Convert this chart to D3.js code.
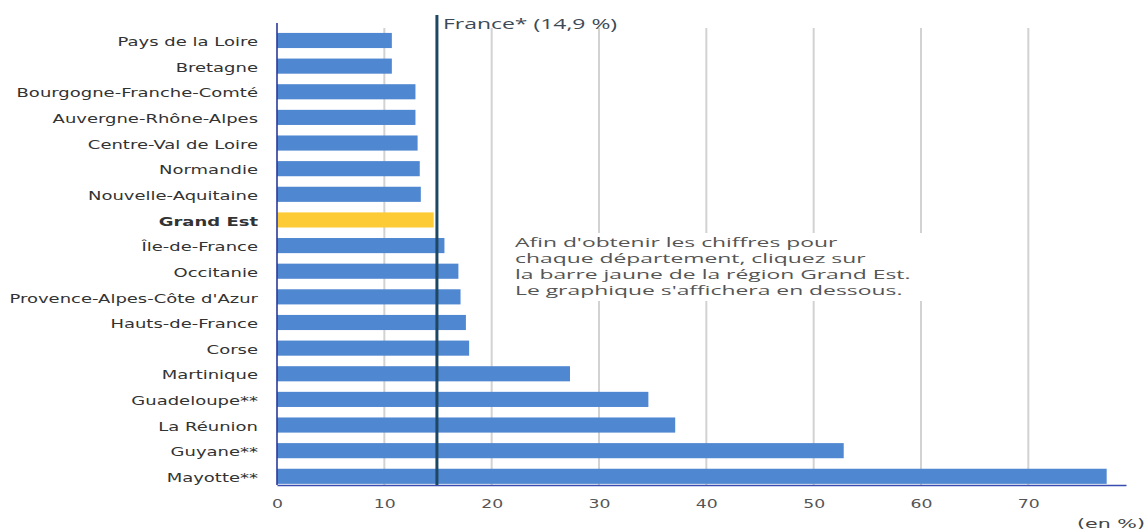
<!DOCTYPE html>
<html lang="fr">
<head>
<meta charset="utf-8">
<script src="https://cdn.jsdelivr.net/npm/d3@7"></script>
<style>
  html, body { margin: 0; padding: 0; background: #fff; }
  svg { display: block; }
</style>
</head>
<body>
<div id="chart"></div>
<script>
// Taux par région (en %)
const regions = [
  "Pays de la Loire", "Bretagne", "Bourgogne-Franche-Comté", "Auvergne-Rhône-Alpes",
  "Centre-Val de Loire", "Normandie", "Nouvelle-Aquitaine", "Grand Est",
  "Île-de-France", "Occitanie", "Provence-Alpes-Côte d'Azur", "Hauts-de-France",
  "Corse", "Martinique", "Guadeloupe**", "La Réunion", "Guyane**", "Mayotte**"
];
const rates = [10.7, 10.7, 12.9, 12.9, 13.1, 13.3, 13.4, 14.6, 15.6, 16.9, 17.1, 17.6, 17.9, 27.3, 34.6, 37.1, 52.8, 77.3];
const highlighted = "Grand Est";
const franceRate = 14.9;
const franceLabel = "France* (14,9 %)";
const xTicks = [0, 10, 20, 30, 40, 50, 60, 70];
const unitLabel = "(en %)";
const noteLines = [
  "Afin d'obtenir les chiffres pour",
  "chaque département, cliquez sur",
  "la barre jaune de la région Grand Est.",
  "Le graphique s'affichera en dessous."
];

const W = 1147, H = 531;
const plot = { left: 277, right: 1126, top: 23, bottom: 485 };
const stretch = 1.5; // horizontal widening of the lettering

const svg = d3.select("#chart").append("svg")
  .attr("width", W).attr("height", H);

const x = d3.scaleLinear().domain([0, 79.1]).range([plot.left, plot.right]);
const y = d3.scaleBand().domain(regions).range([27.8, 489]).paddingInner(0.41).paddingOuter(0.2);

// text widened horizontally around its anchor (offset relative to parent)
function wideText(sel, px, py, k = stretch) {
  return sel.attr("x", 0).attr("y", 0)
    .attr("transform", `translate(${px},${py}) scale(${k},1)`);
}

// vertical grid
svg.append("g").selectAll("line")
  .data(xTicks.filter(d => d > 0))
  .join("line")
  .attr("x1", d => x(d)).attr("x2", d => x(d))
  .attr("y1", 28).attr("y2", plot.bottom)
  .attr("stroke", "#d2d2d2").attr("stroke-width", 2);

// bars
svg.append("g").selectAll("rect")
  .data(regions.map((r, i) => ({ r, v: rates[i] })))
  .join("rect")
  .attr("x", x(0))
  .attr("y", d => y(d.r))
  .attr("width", d => x(d.v) - x(0))
  .attr("height", y.bandwidth())
  .attr("fill", d => d.r === highlighted ? "#fdcb35" : "#5087d1");

// category axis
const yAxis = svg.append("g").attr("transform", `translate(${plot.left},0)`)
  .call(d3.axisLeft(y).tickSize(0).tickPadding(0));
yAxis.select(".domain").remove();
yAxis.selectAll(".tick text").each(function(d) {
  const t = d3.select(this);
  t.attr("dy", "0.35em")
    .attr("text-anchor", "end")
    .attr("font-family", "'DejaVu Sans', Verdana, sans-serif")
    .attr("font-size", 12)
    .attr("font-weight", d === highlighted ? "bold" : "normal")
    .attr("fill", "#333");
  wideText(t, -19, 1.5);
});
svg.append("line")
  .attr("x1", plot.left).attr("x2", plot.left)
  .attr("y1", plot.top).attr("y2", plot.bottom)
  .attr("stroke", "#2a3a9c").attr("stroke-width", 1.6);

// value axis
const xAxis = svg.append("g").attr("transform", `translate(0,${plot.bottom})`)
  .call(d3.axisBottom(x).tickValues(xTicks).tickFormat(d3.format("d")).tickSize(0).tickPadding(0));
xAxis.select(".domain").attr("stroke", "#3a4cb0").attr("stroke-width", 1.4);
xAxis.selectAll(".tick text").each(function() {
  const t = d3.select(this);
  t.attr("dy", "0.35em")
    .attr("text-anchor", "middle")
    .attr("font-family", "'DejaVu Sans', Verdana, sans-serif")
    .attr("font-size", 11.5)
    .attr("fill", "#555");
  wideText(t, 0, 19);
});

// national reference line
svg.append("line")
  .attr("x1", x(franceRate)).attr("x2", x(franceRate))
  .attr("y1", 15).attr("y2", plot.bottom)
  .attr("stroke", "#1e4764").attr("stroke-width", 3);
wideText(svg.append("text"), x(franceRate) + 6, 28.5, 1.53)
  .attr("font-family", "'Open Sans', sans-serif")
  .attr("font-size", 15)
  .attr("fill", "#3d4a56")
  .text(franceLabel);

// explanatory note on a white panel
const note = svg.append("g");
note.append("rect")
  .attr("x", 500).attr("y", 233).attr("width", 432).attr("height", 68)
  .attr("fill", "#fff");
noteLines.forEach((line, i) => {
  wideText(note.append("text"), 515, 247 + i * 16.1, 1.76)
    .attr("font-family", "'Open Sans', sans-serif")
    .attr("font-size", 13)
    .attr("fill", "#555")
    .text(line);
});

// unit
wideText(svg.append("text"), 1145, 528, 1.65)
  .attr("text-anchor", "end")
  .attr("font-family", "'DejaVu Sans', Verdana, sans-serif")
  .attr("font-size", 12.5)
  .attr("fill", "#444")
  .text(unitLabel);
</script>
</body>
</html>
